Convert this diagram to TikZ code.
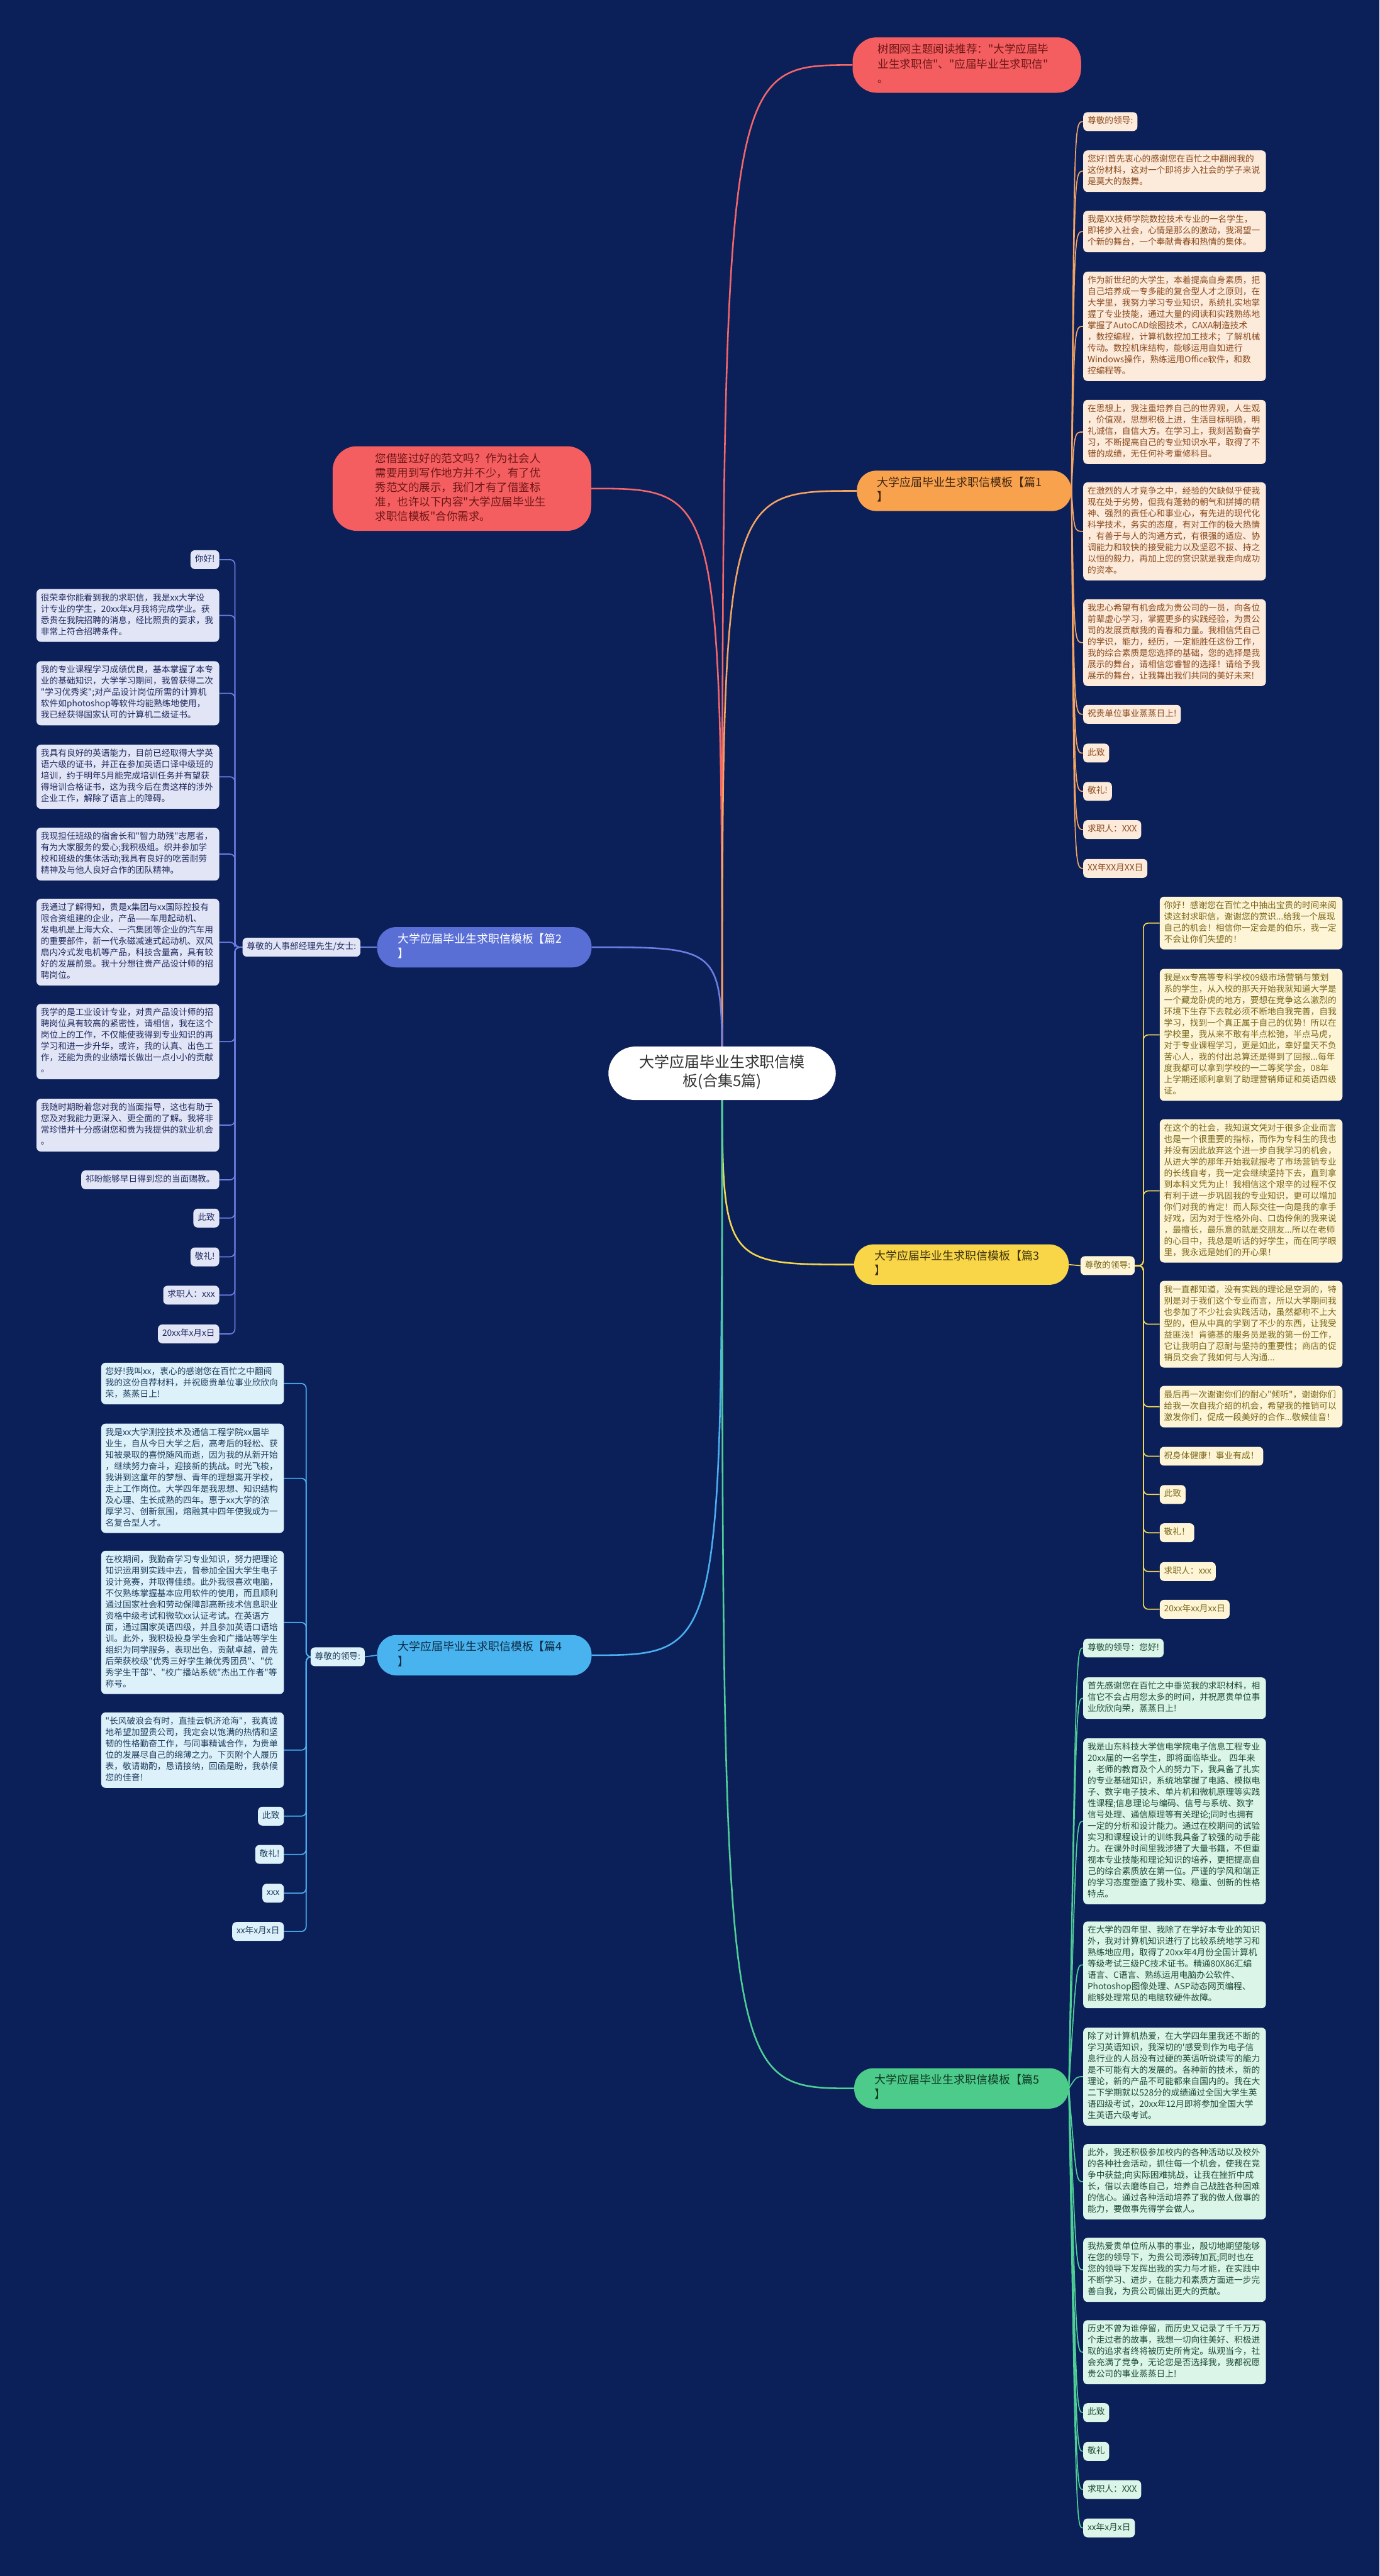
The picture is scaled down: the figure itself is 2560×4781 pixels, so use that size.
\documentclass[tikz,border=0pt]{standalone}
\usepackage{fontspec}
\setmainfont{Noto Sans CJK SC}[Ligatures=TeXOff]
\usetikzlibrary{calc}
\definecolor{bgc}{HTML}{0B1F59}
\definecolor{redf}{HTML}{F45E60}
\definecolor{redt}{HTML}{6E1616}
\definecolor{redl}{HTML}{F2676A}
\definecolor{oA}{HTML}{F8A24E}\definecolor{oT}{HTML}{3E2410}\definecolor{oL}{HTML}{F4A462}\definecolor{oF}{HTML}{FCEADB}\definecolor{oX}{HTML}{8A4A1C}
\definecolor{pA}{HTML}{5A6FD6}\definecolor{pT}{HTML}{FFFFFF}\definecolor{pL}{HTML}{6B7FE2}\definecolor{pF}{HTML}{E2E5F6}\definecolor{pX}{HTML}{1E2A5E}
\definecolor{yA}{HTML}{F9D648}\definecolor{yT}{HTML}{3E3410}\definecolor{yL}{HTML}{F5D84E}\definecolor{yF}{HTML}{FDF5D6}\definecolor{yX}{HTML}{7A6618}
\definecolor{sA}{HTML}{48B3EE}\definecolor{sT}{HTML}{0E2A44}\definecolor{sL}{HTML}{4AB0F0}\definecolor{sF}{HTML}{DDF1FB}\definecolor{sX}{HTML}{1D3D5C}
\definecolor{gA}{HTML}{4CCB8B}\definecolor{gT}{HTML}{0E3A24}\definecolor{gL}{HTML}{4FCF95}\definecolor{gF}{HTML}{DCF5E9}\definecolor{gX}{HTML}{1C4B36}
\newcommand{\leaffont}{\fontsize{16pt}{21pt}\selectfont}
\newcommand{\redfont}{\fontsize{20.5pt}{27pt}\selectfont}
\newcommand{\brfont}{\fontsize{21pt}{27pt}\selectfont}
\newcommand{\cfont}{\fontsize{28pt}{35pt}\selectfont}
\pgfdeclarelayer{bgl}\pgfdeclarelayer{edgel}\pgfsetlayers{bgl,edgel,main}
\tikzset{
 leaf/.style={rounded corners=8pt, inner xsep=8pt, inner ysep=7pt, align=left, font=\leaffont,
   execute at begin node=\strut, execute at end node=\strut},
 para/.style={text width=323pt},
 Lo/.style={leaf, fill=oF, text=oX, anchor=north west},
 Lp/.style={leaf, fill=pF, text=pX, anchor=north east},
 Ly/.style={leaf, fill=yF, text=yX, anchor=north west},
 Ls/.style={leaf, fill=sF, text=sX, anchor=north east},
 Lg/.style={leaf, fill=gF, text=gX, anchor=north west},
 redbox/.style={fill=redf, text=redt, rounded corners=45pt, align=left, font=\redfont, inner ysep=11pt,
   execute at begin node=\strut, execute at end node=\strut},
 branch/.style={rounded corners=36pt, align=left, font=\brfont, text width=322pt, inner xsep=38pt, inner ysep=10.5pt,
   execute at begin node=\strut, execute at end node=\strut},
 maincon/.style={line width=3pt},
 subcon/.style={line width=2pt},
 brk/.style={line width=2pt, rounded corners=9pt}
}
\begin{document}
\begin{tikzpicture}[x=1pt,y=-1pt]
\begin{pgfonlayer}{bgl}
\fill[bgc] (0,0) rectangle (2560,4781);
\end{pgfonlayer}
\useasboundingbox (0,0) rectangle (2560,4781);

% center
\node[fill=white, text=black!80, rounded corners=50pt, align=center, font=\cfont, inner xsep=20pt, inner ysep=15pt,
  minimum width=422pt, execute at begin node=\strut, execute at end node=\strut] (c) at (1340,1992) {大学应届毕业生求职信模\\板(合集5篇)};

% red nodes
\node[redbox, text width=330pt, inner xsep=47pt, anchor=north west] (r1) at (1582,69)
 {树图网主题阅读推荐："大学应届毕\\业生求职信"、"应届毕业生求职信"\\。};
\node[redbox, text width=322pt, inner xsep=79pt, anchor=north west] (r2) at (617,828)
 {您借鉴过好的范文吗？作为社会人\\需要用到写作地方并不少，有了优\\秀范文的展示，我们才有了借鉴标\\准，也许以下内容"大学应届毕业生\\求职信模板"合你需求。};

% branches
\node[branch, fill=oA, text=oT, anchor=west] (b1) at (1590,911) {大学应届毕业生求职信模板【篇1\\】};
\node[branch, fill=pA, text=pT, anchor=east] (b2) at (1098,1758) {大学应届毕业生求职信模板【篇2\\】};
\node[branch, fill=yA, text=yT, anchor=west] (b3) at (1585,2347) {大学应届毕业生求职信模板【篇3\\】};
\node[branch, fill=sA, text=sT, anchor=east] (b4) at (1098,3072) {大学应届毕业生求职信模板【篇4\\】};
\node[branch, fill=gA, text=gT, anchor=west] (b5) at (1585,3876) {大学应届毕业生求职信模板【篇5\\】};

% labels
\node[leaf, fill=pF, text=pX, anchor=east] (lab2) at (669,1758) {尊敬的人事部经理先生/女士:};
\node[leaf, fill=yF, text=yX, anchor=west] (lab3) at (2005,2349) {尊敬的领导:};
\node[leaf, fill=sF, text=sX, anchor=east] (lab4) at (677,3075) {尊敬的领导:};

% ---------- branch 1 leaves
\node[Lo] (L11) at (2010,208) {尊敬的领导:};
\node[Lo,para] (L12) at (2010,279) {您好!首先衷心的感谢您在百忙之中翻阅我的\\这份材料，这对一个即将步入社会的学子来说\\是莫大的鼓舞。};
\node[Lo,para] (L13) at (2010,391) {我是XX技师学院数控技术专业的一名学生，\\即将步入社会，心情是那么的激动，我渴望一\\个新的舞台，一个奉献青春和热情的集体。};
\node[Lo,para] (L14) at (2010,504) {作为新世纪的大学生，本着提高自身素质，把\\自己培养成一专多能的复合型人才之原则，在\\大学里，我努力学习专业知识，系统扎实地掌\\握了专业技能，通过大量的阅读和实践熟练地\\掌握了AutoCAD绘图技术，CAXA制造技术\\，数控编程，计算机数控加工技术；了解机械\\传动。数控机床结构，能够运用自如进行\\Windows操作，熟练运用Office软件，和数\\控编程等。};
\node[Lo,para] (L15) at (2010,742) {在思想上，我注重培养自己的世界观，人生观\\，价值观，思想积极上进，生活目标明确，明\\礼诚信，自信大方。在学习上，我刻苦勤奋学\\习，不断提高自己的专业知识水平，取得了不\\错的成绩，无任何补考重修科目。};
\node[Lo,para] (L16) at (2010,895) {在激烈的人才竞争之中，经验的欠缺似乎使我\\现在处于劣势，但我有蓬勃的朝气和拼搏的精\\神、强烈的责任心和事业心，有先进的现代化\\科学技术，务实的态度，有对工作的极大热情\\，有善于与人的沟通方式，有很强的适应、协\\调能力和较快的接受能力以及坚忍不拔、持之\\以恒的毅力，再加上您的赏识就是我走向成功\\的资本。};
\node[Lo,para] (L17) at (2010,1112) {我忠心希望有机会成为贵公司的一员，向各位\\前辈虚心学习，掌握更多的实践经验，为贵公\\司的发展贡献我的青春和力量。我相信凭自己\\的学识，能力，经历，一定能胜任这份工作，\\我的综合素质是您选择的基础，您的选择是我\\展示的舞台，请相信您睿智的选择！请给予我\\展示的舞台，让我舞出我们共同的美好未来!};
\node[Lo] (L18) at (2010,1308) {祝贵单位事业蒸蒸日上!};
\node[Lo] (L19) at (2010,1380) {此致};
\node[Lo] (L1a) at (2010,1451) {敬礼!};
\node[Lo] (L1b) at (2010,1522) {求职人：XXX};
\node[Lo] (L1c) at (2010,1594) {XX年XX月XX日};

% ---------- branch 2 leaves
\node[Lp] (L21) at (407,1021) {你好!};
\node[Lp,para] (L22) at (407,1093) {很荣幸你能看到我的求职信，我是xx大学设\\计专业的学生，20xx年x月我将完成学业。获\\悉贵在我院招聘的消息，经比照贵的要求，我\\非常上符合招聘条件。};
\node[Lp,para] (L23) at (407,1227) {我的专业课程学习成绩优良，基本掌握了本专\\业的基础知识，大学学习期间，我曾获得二次\\"学习优秀奖";对产品设计岗位所需的计算机\\软件如photoshop等软件均能熟练地使用，\\我已经获得国家认可的计算机二级证书。};
\node[Lp,para] (L24) at (407,1382) {我具有良好的英语能力，目前已经取得大学英\\语六级的证书，并正在参加英语口译中级班的\\培训，约于明年5月能完成培训任务并有望获\\得培训合格证书，这为我今后在贵这样的涉外\\企业工作，解除了语言上的障碍。};
\node[Lp,para] (L25) at (407,1536) {我现担任班级的宿舍长和"智力助残"志愿者，\\有为大家服务的爱心;我积极组。织并参加学\\校和班级的集体活动;我具有良好的吃苦耐劳\\精神及与他人良好合作的团队精神。};
\node[Lp,para] (L26) at (407,1668) {我通过了解得知，贵是x集团与xx国际控投有\\限合资组建的企业，产品——车用起动机、\\发电机是上海大众、一汽集团等企业的汽车用\\的重要部件，新一代永磁减速式起动机、双风\\扇内冷式发电机等产品，科技含量高，具有较\\好的发展前景。我十分想往贵产品设计师的招\\聘岗位。};
\node[Lp,para] (L27) at (407,1863) {我学的是工业设计专业，对贵产品设计师的招\\聘岗位具有较高的紧密性，请相信，我在这个\\岗位上的工作，不仅能使我得到专业知识的再\\学习和进一步升华，或许，我的认真、出色工\\作，还能为贵的业绩增长做出一点小小的贡献\\。};
\node[Lp,para] (L28) at (407,2039) {我随时期盼着您对我的当面指导，这也有助于\\您及对我能力更深入、更全面的了解。我将非\\常珍惜并十分感谢您和贵为我提供的就业机会\\。};
\node[Lp] (L29) at (407,2172) {祁盼能够早日得到您的当面赐教。};
\node[Lp] (L2a) at (407,2243) {此致};
\node[Lp] (L2b) at (407,2315) {敬礼!};
\node[Lp] (L2c) at (407,2386) {求职人：xxx};
\node[Lp] (L2d) at (407,2458) {20xx年x月x日};

% ---------- branch 3 leaves
\node[Ly,para] (L31) at (2152,1664) {你好！感谢您在百忙之中抽出宝贵的时间来阅\\读这封求职信，谢谢您的赏识...给我一个展现\\自己的机会！相信你一定会是的伯乐，我一定\\不会让你们失望的！};
\node[Ly,para] (L32) at (2152,1798) {我是xx专高等专科学校09级市场营销与策划\\系的学生，从入校的那天开始我就知道大学是\\一个藏龙卧虎的地方，要想在竞争这么激烈的\\环境下生存下去就必须不断地自我完善，自我\\学习，找到一个真正属于自己的优势！所以在\\学校里，我从来不敢有半点松弛，半点马虎，\\对于专业课程学习，更是如此，幸好皇天不负\\苦心人，我的付出总算还是得到了回报...每年\\度我都可以拿到学校的一二等奖学金，08年\\上学期还顺利拿到了助理营销师证和英语四级\\证。};
\node[Ly,para] (L33) at (2152,2077) {在这个的社会，我知道文凭对于很多企业而言\\也是一个很重要的指标，而作为专科生的我也\\并没有因此放弃这个进一步自我学习的机会，\\从进大学的那年开始我就报考了市场营销专业\\的长线自考，我一定会继续坚持下去，直到拿\\到本科文凭为止！我相信这个艰辛的过程不仅\\有利于进一步巩固我的专业知识，更可以增加\\你们对我的肯定！而人际交往一向是我的拿手\\好戏，因为对于性格外向、口齿伶俐的我来说\\，最擅长，最乐意的就是交朋友...所以在老师\\的心目中，我总是听话的好学生，而在同学眼\\里，我永远是她们的开心果！};
\node[Ly,para] (L34) at (2152,2377) {我一直都知道，没有实践的理论是空洞的，特\\别是对于我们这个专业而言，所以大学期间我\\也参加了不少社会实践活动，虽然都称不上大\\型的，但从中真的学到了不少的东西，让我受\\益匪浅！肯德基的服务员是我的第一份工作，\\它让我明白了忍耐与坚持的重要性；商店的促\\销员交会了我如何与人沟通...};
\node[Ly,para] (L35) at (2152,2572) {最后再一次谢谢你们的耐心"倾听"，谢谢你们\\给我一次自我介绍的机会，希望我的推销可以\\激发你们，促成一段美好的合作...敬候佳音！};
\node[Ly] (L36) at (2152,2685) {祝身体健康！事业有成！};
\node[Ly] (L37) at (2152,2756) {此致};
\node[Ly] (L38) at (2152,2827) {敬礼！};
\node[Ly] (L39) at (2152,2899) {求职人：xxx};
\node[Ly] (L3a) at (2152,2969) {20xx年xx月xx日};

% ---------- branch 4 leaves
\node[Ls,para] (L41) at (527,2529) {您好!我叫xx，衷心的感谢您在百忙之中翻阅\\我的这份自荐材料，并祝愿贵单位事业欣欣向\\荣，蒸蒸日上!};
\node[Ls,para] (L42) at (527,2642) {我是xx大学测控技术及通信工程学院xx届毕\\业生，自从今日大学之后，高考后的轻松、获\\知被录取的喜悦随风而逝，因为我的从新开始\\，继续努力奋斗，迎接新的挑战。时光飞梭，\\我讲到这童年的梦想、青年的理想离开学校，\\走上工作岗位。大学四年是我思想、知识结构\\及心理、生长成熟的四年。惠于xx大学的浓\\厚学习、创新氛围，熔融其中四年使我成为一\\名复合型人才。};
\node[Ls,para] (L43) at (527,2878) {在校期间，我勤奋学习专业知识，努力把理论\\知识运用到实践中去，曾参加全国大学生电子\\设计竞赛，并取得佳绩。此外我很喜欢电脑，\\不仅熟练掌握基本应用软件的使用，而且顺利\\通过国家社会和劳动保障部高新技术信息职业\\资格中级考试和微软xx认证考试。在英语方\\面，通过国家英语四级，并且参加英语口语培\\训。此外，我积极投身学生会和广播站等学生\\组织为同学服务，表现出色，贡献卓越，曾先\\后荣获校级"优秀三好学生兼优秀团员"、"优\\秀学生干部"、"校广播站系统"杰出工作者"等\\称号。};
\node[Ls,para] (L44) at (527,3178) {"长风破浪会有时，直挂云帆济沧海"，我真诚\\地希望加盟贵公司，我定会以饱满的热情和坚\\韧的性格勤奋工作，与同事精诚合作，为贵单\\位的发展尽自己的绵薄之力。下页附个人履历\\表，敬请勘酌，恳请接纳，回函是盼，我恭候\\您的佳音!};
\node[Ls] (L45) at (527,3353) {此致};
\node[Ls] (L46) at (527,3424) {敬礼!};
\node[Ls] (L47) at (527,3496) {xxx};
\node[Ls] (L48) at (527,3567) {xx年x月x日};

% ---------- branch 5 leaves
\node[Lg] (L51) at (2010,3041) {尊敬的领导：您好!};
\node[Lg,para] (L52) at (2010,3113) {首先感谢您在百忙之中垂览我的求职材料，相\\信它不会占用您太多的时间，并祝愿贵单位事\\业欣欣向荣，蒸蒸日上!};
\node[Lg,para] (L53) at (2010,3226) {我是山东科技大学信电学院电子信息工程专业\\20xx届的一名学生，即将面临毕业。 四年来\\，老师的教育及个人的努力下，我具备了扎实\\的专业基础知识，系统地掌握了电路、模拟电\\子、数字电子技术、单片机和微机原理等实践\\性课程;信息理论与编码、信号与系统、数字\\信号处理、通信原理等有关理论;同时也拥有\\一定的分析和设计能力。通过在校期间的试验\\实习和课程设计的训练我具备了较强的动手能\\力。在课外时间里我涉猎了大量书籍，不但重\\视本专业技能和理论知识的培养，更把提高自\\己的综合素质放在第一位。严谨的学风和端正\\的学习态度塑造了我朴实、稳重、创新的性格\\特点。};
\node[Lg,para] (L54) at (2010,3566) {在大学的四年里、我除了在学好本专业的知识\\外，我对计算机知识进行了比较系统地学习和\\熟练地应用，取得了20xx年4月份全国计算机\\等级考试三级PC技术证书。精通80X86汇编\\语言、C语言、熟练运用电脑办公软件、\\Photoshop图像处理、ASP动态网页编程、\\能够处理常见的电脑软硬件故障。};
\node[Lg,para] (L55) at (2010,3763) {除了对计算机热爱，在大学四年里我还不断的\\学习英语知识，我深切的'感受到作为电子信\\息行业的人员没有过硬的英语听说读写的能力\\是不可能有大的发展的。各种新的技术，新的\\理论，新的产品不可能都来自国内的。我在大\\二下学期就以528分的成绩通过全国大学生英\\语四级考试，20xx年12月即将参加全国大学\\生英语六级考试。};
\node[Lg,para] (L56) at (2010,3979) {此外，我还积极参加校内的各种活动以及校外\\的各种社会活动，抓住每一个机会，使我在竞\\争中获益;向实际困难挑战，让我在挫折中成\\长，借以去磨练自己，培养自己战胜各种困难\\的信心。通过各种活动培养了我的做人做事的\\能力，要做事先得学会做人。};
\node[Lg,para] (L57) at (2010,4153) {我热爱贵单位所从事的事业，殷切地期望能够\\在您的领导下，为贵公司添砖加瓦;同时也在\\您的领导下发挥出我的实力与才能，在实践中\\不断学习、进步，在能力和素质方面进一步完\\善自我，为贵公司做出更大的贡献。};
\node[Lg,para] (L58) at (2010,4306) {历史不曾为谁停留，而历史又记录了千千万万\\个走过者的故事，我想一切向往美好、积极进\\取的追求者终将被历史所肯定。纵观当今，社\\会充满了竞争，无论您是否选择我，我都祝愿\\贵公司的事业蒸蒸日上!};
\node[Lg] (L59) at (2010,4460) {此致};
\node[Lg] (L5a) at (2010,4532) {敬礼};
\node[Lg] (L5b) at (2010,4603) {求职人：XXX};
\node[Lg] (L5c) at (2010,4674) {xx年x月x日};

% ---------- connectors
\begin{pgfonlayer}{edgel}
\draw[maincon, redl] let \p1=(c.center), \p2=(r1.west) in (\p1) .. controls (\x1,\y2) .. (\p2);
\draw[maincon, redl] let \p1=(c.center), \p2=(r2.east) in (\p1) .. controls (\x1,\y2) .. (\p2);
\draw[maincon, oL] let \p1=(c.center), \p2=(b1.west) in (\p1) .. controls (\x1,\y2) .. (\p2);
\draw[maincon, pL] let \p1=(c.center), \p2=(b2.east) in (\p1) .. controls (\x1,\y2) .. (\p2);
\draw[maincon, yL] let \p1=(c.center), \p2=(b3.west) in (\p1) .. controls (\x1,\y2) .. (\p2);
\draw[maincon, sL] let \p1=(c.center), \p2=(b4.east) in (\p1) .. controls (\x1,\y2) .. (\p2);
\draw[maincon, gL] let \p1=(c.center), \p2=(b5.west) in (\p1) .. controls (\x1,\y2) .. (\p2);

\draw[subcon, pL] (b2.west) -- (lab2.east);
\draw[subcon, yL] (b3.east) -- (lab3.west);
\draw[subcon, sL] (b4.west) -- (lab4.east);

\foreach \k in {1,2,3,4,5,6,7,8,9,a,b,c}
  \draw[subcon, oL] let \p1=(L1\k.west), \p2=(b1.east) in (\p2) .. controls (\x2+5pt,\y1) .. (\p1);
\foreach \k in {1,2,3,4,5,6,7,8,9,a,b,c}
  \draw[subcon, gL] let \p1=(L5\k.west), \p2=(b5.east) in (\p2) .. controls (\x2+14pt,\y1) .. (\p1);
\foreach \k in {1,2,3,4,5,6,7,8,9,a,b,c,d}
  \draw[brk, pL] (lab2.west) -- ++(-14pt,0) |- (L2\k.east);
\foreach \k in {1,2,3,4,5,6,7,8,9,a}
  \draw[brk, yL] (lab3.east) -- ++(16pt,0) |- (L3\k.west);
\foreach \k in {1,2,3,4,5,6,7,8}
  \draw[brk, sL] (lab4.west) -- ++(-8pt,0) |- (L4\k.east);
\end{pgfonlayer}
\end{tikzpicture}
\end{document}
